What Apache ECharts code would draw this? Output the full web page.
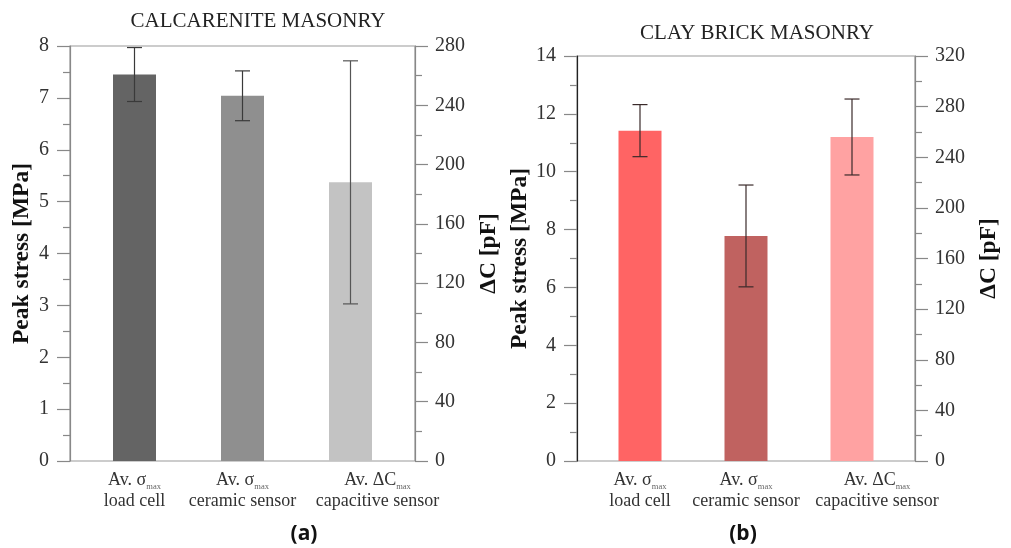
<!DOCTYPE html>
<html>
<head>
<meta charset="utf-8">
<script src="https://cdn.jsdelivr.net/npm/echarts@6/dist/echarts.min.js"></script>
<style>
  html, body { margin: 0; padding: 0; background: #fff; }
  #chart { width: 1011px; height: 548px; }
</style>
</head>
<body>
<div id="chart"></div>
<script>
// Category labels (first line is "lead" + subscript, second line is the sensor name)
const leadText = ['Av. σ', 'Av. σ', 'Av. ΔC'];
const subText = ['max', 'max', 'max'];
const sensorNames = ['load cell', 'ceramic sensor', 'capacitive sensor'];

// Panel titles and captions
const panelTitles = ['CALCARENITE MASONRY', 'CLAY BRICK MASONRY'];
const panelCaptions = ['(a)', '(b)'];
const stressAxisName = 'Peak stress [MPa]';
const capAxisName = 'ΔC [pF]';

// Calcarenite masonry: peak stress (MPa) for load cell and ceramic sensor, ΔC (pF) for capacitive sensor
const calcStress = [7.45, 7.04];
const calcStressErr = [0.52, 0.48];
const calcCap = [188];
const calcCapErr = [82];

// Clay brick masonry
const clayStress = [11.42, 7.78];
const clayStressErr = [0.9, 1.76];
const clayCap = [256];
const clayCapErr = [30];

// Axis ranges
const calcStressAxis = { min: 0, max: 8, interval: 1 };
const calcCapAxis = { min: 0, max: 280, interval: 40 };
const clayStressAxis = { min: 0, max: 14, interval: 2 };
const clayCapAxis = { min: 0, max: 320, interval: 40 };

const SERIF = 'Liberation Serif';

function errRender(params, api) {
  const x = api.value(0);
  const lo = api.coord([x, api.value(1)]);
  const hi = api.coord([x, api.value(2)]);
  const hw = 7.5;
  const style = { stroke: api.visual('color'), lineWidth: 1.2 };
  return {
    type: 'group',
    children: [
      { type: 'line', shape: { x1: lo[0], y1: lo[1], x2: hi[0], y2: hi[1] }, style },
      { type: 'line', shape: { x1: hi[0] - hw, y1: hi[1], x2: hi[0] + hw, y2: hi[1] }, style },
      { type: 'line', shape: { x1: lo[0] - hw, y1: lo[1], x2: lo[0] + hw, y2: lo[1] }, style }
    ]
  };
}

function valueAxis(grid, range, position, lineColor, name, nameGap) {
  return {
    type: 'value', gridIndex: grid, position,
    min: range.min, max: range.max, interval: range.interval,
    name, nameLocation: 'middle', nameGap, nameRotate: 90,
    nameTextStyle: { fontFamily: SERIF, fontWeight: 'bold', fontSize: 23.5, color: '#111' },
    axisLine: { show: true, lineStyle: { color: lineColor, width: 1.2 } },
    axisTick: { show: true, inside: false, length: 13, lineStyle: { color: '#888', width: 1.2 } },
    minorTick: { show: true, splitNumber: 2, length: 7, lineStyle: { color: '#888', width: 1.2 } },
    splitLine: { show: false },
    axisLabel: { margin: position === 'left' ? 21 : 20, fontFamily: SERIF, fontSize: 20, color: '#333' }
  };
}

function hiddenAxis(grid, range) {
  return { type: 'value', gridIndex: grid, min: range.min, max: range.max, show: false };
}

function categoryAxis(grid, shiftPad) {
  return {
    type: 'category', gridIndex: grid, data: sensorNames,
    axisLine: { show: false }, axisTick: { show: false },
    axisLabel: {
      interval: 0, margin: 9,
      formatter: (value, idx) => {
        const m = idx === 2 ? 'ms' : 'm';
        return `{${m}|${leadText[idx]}}{s|${subText[idx]}}\n{${m}|${value}}`;
      },
      rich: {
        m: { fontFamily: SERIF, fontSize: 18, color: '#333', lineHeight: 21 },
        ms: { fontFamily: SERIF, fontSize: 18, color: '#333', lineHeight: 21, padding: [0, 0, 0, shiftPad] },
        s: { fontFamily: SERIF, fontSize: 8.5, color: '#666', lineHeight: 10, verticalAlign: 'bottom' }
      }
    }
  };
}

function barSeries(xi, yi, values, colors, offsetIdx) {
  const data = sensorNames.map((_, i) => {
    const k = i - offsetIdx;
    if (k < 0 || k >= values.length) return null;
    return { value: values[k], itemStyle: { color: colors[i] } };
  });
  return {
    type: 'bar', xAxisIndex: xi, yAxisIndex: yi, data,
    barWidth: 43, barGap: '-100%', silent: true
  };
}

function errSeries(xi, yi, values, errs, offsetIdx, color) {
  return {
    type: 'custom', xAxisIndex: xi, yAxisIndex: yi, renderItem: errRender,
    itemStyle: { color }, silent: true, z: 5,
    data: values.map((v, k) => [k + offsetIdx, v - errs[k], v + errs[k]])
  };
}

const grayColors = ['#646464', '#8f8f8f', '#c3c3c3'];
const redColors = ['#ff6464', '#c06260', '#ffa2a2'];

const titleStyle = { fontFamily: SERIF, fontSize: 21, fontWeight: 'normal', color: '#222' };
const captionStyle = { fontFamily: 'Open Sans', fontSize: 21, fontWeight: 'bold', color: '#111' };

const option = {
  backgroundColor: '#fff',
  animation: false,
  title: [
    { text: panelTitles[0], left: 253, top: 6, textAlign: 'center', textStyle: titleStyle },
    { text: panelTitles[1], left: 752, top: 18, textAlign: 'center', textStyle: titleStyle },
    { text: panelCaptions[0], left: 299, top: 519, textAlign: 'center', textStyle: captionStyle },
    { text: panelCaptions[1], left: 738, top: 519, textAlign: 'center', textStyle: captionStyle }
  ],
  grid: [
    { left: 70, top: 46, width: 345, height: 415, show: true, borderColor: '#999', borderWidth: 1.2, backgroundColor: 'transparent' },
    { left: 80.5, top: 46, width: 324, height: 415 },
    { left: 577, top: 56, width: 338, height: 405, show: true, borderColor: '#999', borderWidth: 1.2, backgroundColor: 'transparent' },
    { left: 587, top: 56, width: 318, height: 405 }
  ],
  xAxis: [
    { type: 'value', gridIndex: 0, min: 0, max: 1, show: false },
    categoryAxis(1, 54),
    { type: 'value', gridIndex: 2, min: 0, max: 1, show: false },
    categoryAxis(3, 50)
  ],
  yAxis: [
    valueAxis(0, calcStressAxis, 'left', '#888', stressAxisName, 36),
    valueAxis(0, calcCapAxis, 'right', '#888', capAxisName, 62),
    hiddenAxis(1, calcStressAxis),
    hiddenAxis(1, calcCapAxis),
    valueAxis(2, clayStressAxis, 'left', '#222', stressAxisName, 36),
    valueAxis(2, clayCapAxis, 'right', '#888', capAxisName, 62),
    hiddenAxis(3, clayStressAxis),
    hiddenAxis(3, clayCapAxis)
  ],
  series: [
    barSeries(1, 2, calcStress, grayColors, 0),
    barSeries(1, 3, calcCap, grayColors, 2),
    errSeries(1, 2, calcStress, calcStressErr, 0, '#3a3a3a'),
    errSeries(1, 3, calcCap, calcCapErr, 2, '#555'),
    barSeries(3, 6, clayStress, redColors, 0),
    barSeries(3, 7, clayCap, redColors, 2),
    errSeries(3, 6, clayStress, clayStressErr, 0, '#3a2a2a'),
    errSeries(3, 7, clayCap, clayCapErr, 2, '#3a2a2a')
  ]
};

const chart = echarts.init(document.getElementById('chart'), null, { renderer: 'canvas' });
chart.setOption(option);
</script>
</body>
</html>
